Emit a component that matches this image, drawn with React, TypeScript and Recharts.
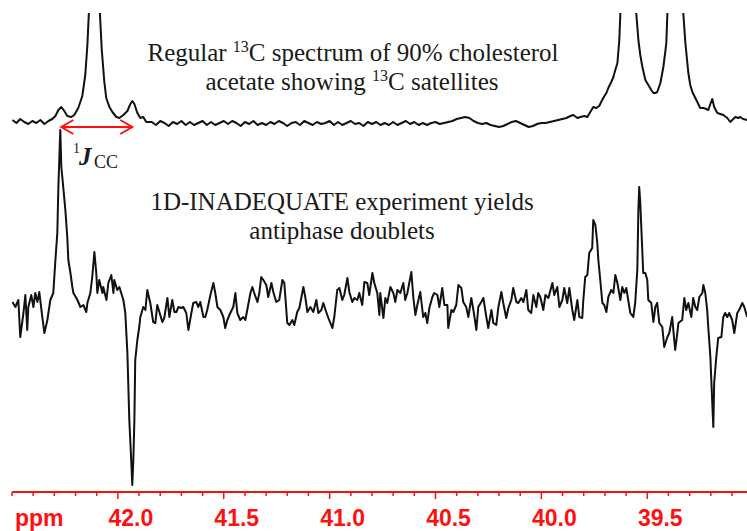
import { Line, LineChart, ReferenceLine, XAxis, YAxis } from 'recharts';

type Pt = [number, number];

// regular 13C spectrum: [ppm, intensity above its own baseline]
const REG_LEFT: Pt[] = [
    [42.498, 2], [42.479, -1], [42.461, 3], [42.442, 0], [42.423, -2], [42.404, 1], [42.385, -1], [42.366, 2],
    [42.347, -2], [42.328, 1], [42.31, 3], [42.295, 6], [42.281, 12], [42.267, 15], [42.253, 11], [42.239, 6],
    [42.22, 5], [42.206, 7], [42.187, 14], [42.168, 26], [42.154, 47], [42.144, 77], [42.137, 109], [42.111, 600],
    [42.085, 109], [42.076, 72], [42.064, 40], [42.055, 24], [42.04, 15], [42.026, 10], [42.007, 5], [41.993, 4],
    [41.974, 7], [41.955, 11], [41.941, 18], [41.932, 21], [41.922, 18], [41.908, 9], [41.894, 4], [41.88, 5],
    [41.866, 0],
];

const REG_MID: Pt[] = [
    [41.84, 0], [41.82, -3], [41.8, 1], [41.78, -1], [41.76, -4], [41.74, 0], [41.72, -2], [41.7, 1],
    [41.68, -3], [41.66, 0], [41.64, -3], [41.62, -1], [41.6, 1], [41.58, -3], [41.56, 0], [41.54, -3],
    [41.52, -1], [41.5, 1], [41.48, -2], [41.46, 1], [41.44, -1], [41.42, -4], [41.4, 0], [41.38, -2],
    [41.36, 1], [41.34, -3], [41.32, -1], [41.3, -3], [41.28, 0], [41.26, -2], [41.24, 1], [41.22, -1],
    [41.2, -4], [41.18, -1], [41.16, 0], [41.14, -3], [41.12, 1], [41.1, -1], [41.08, -3], [41.06, 0],
    [41.04, -2], [41.02, -1], [41.0, 1], [40.98, -3], [40.96, 0], [40.94, -3], [40.92, -1], [40.9, 1],
    [40.88, -2], [40.86, -1], [40.84, -4], [40.82, 0], [40.8, -2], [40.78, 0], [40.76, -3], [40.74, -1],
    [40.72, -3], [40.7, 0], [40.68, -3], [40.66, -1], [40.64, 1], [40.62, -2], [40.6, 0], [40.58, -3],
    [40.56, -1], [40.54, -3], [40.52, -1], [40.5, 0], [40.48, -2], [40.46, -1], [40.44, 0], [40.42, 1],
    [40.4, 3], [40.38, 4], [40.36, 5], [40.34, 4], [40.32, 1], [40.3, -1], [40.28, -2], [40.26, -1],
    [40.24, -3], [40.22, -4], [40.2, -5], [40.18, -4], [40.16, -2], [40.14, 0], [40.12, 1], [40.1, -1],
    [40.08, -3], [40.06, -5], [40.04, -4], [40.02, -2], [40.0, -1], [39.98, -1], [39.96, 0],
];

const REG_RIGHT: Pt[] = [
    [39.901, 3], [39.882, 4], [39.863, 6], [39.849, 7], [39.83, 4], [39.816, 5], [39.797, 6], [39.783, 5],
    [39.769, 10], [39.755, 15], [39.741, 14], [39.727, 16], [39.708, 24], [39.693, 29], [39.684, 34], [39.67, 40],
    [39.66, 45], [39.651, 52], [39.641, 59], [39.632, 82], [39.627, 109], [39.59, 600], [39.552, 109], [39.542, 82],
    [39.533, 67], [39.523, 55], [39.509, 42], [39.495, 37], [39.481, 32], [39.471, 29], [39.462, 29], [39.453, 30],
    [39.438, 39], [39.424, 55], [39.415, 70], [39.41, 79], [39.405, 109], [39.368, 600], [39.33, 109], [39.32, 79],
    [39.306, 49], [39.297, 37], [39.287, 30], [39.273, 24], [39.259, 18], [39.25, 14], [39.235, 14], [39.221, 13],
    [39.212, 12], [39.202, 18], [39.193, 23], [39.184, 15], [39.169, 9], [39.155, 8], [39.141, 7], [39.122, 4],
    [39.108, 0], [39.094, 3], [39.084, 5], [39.07, 4], [39.061, 5], [39.047, 3], [39.028, 2],
];

// 1D-INADEQUATE: [ppm, intensity]
const INA_LEFT: Pt[] = [
    [42.498, -2], [42.484, -7], [42.47, 0], [42.461, -37], [42.446, -13], [42.437, 5], [42.428, -30], [42.423, -7],
    [42.409, 5], [42.399, -7], [42.39, 7], [42.38, -2], [42.371, 8], [42.357, -17], [42.347, -33], [42.333, -20],
    [42.319, 0], [42.305, 7], [42.295, 40], [42.286, 67], [42.281, 113], [42.272, 170], [42.267, 133], [42.262, 122],
    [42.258, 113], [42.248, 90], [42.239, 63], [42.234, 40], [42.224, 27], [42.215, 13], [42.21, 7], [42.191, 0],
    [42.177, -7], [42.163, -5], [42.149, -12], [42.144, -3], [42.13, 7], [42.121, 23], [42.111, 48], [42.102, 27],
    [42.097, 7], [42.088, 20], [42.073, 7], [42.069, 13], [42.054, 0], [42.045, 17], [42.031, 25], [42.021, 7],
    [42.017, 20], [42.003, 10], [41.993, 13], [41.974, 0], [41.965, -13], [41.955, -53], [41.946, -120], [41.936, -165],
    [41.932, -185], [41.927, -160], [41.922, -120], [41.918, -60], [41.908, -40], [41.899, -27],
];

const INA_MID: Pt[] = [
    [41.894, -17], [41.88, -7], [41.87, -10], [41.861, 10], [41.847, -3], [41.833, -22], [41.823, -23], [41.814, -5],
    [41.804, -12], [41.79, -22], [41.781, -18], [41.766, 2], [41.757, -17], [41.743, 0], [41.733, -12], [41.724, -12],
    [41.714, -7], [41.7, -8], [41.691, -7], [41.677, -13], [41.667, -30], [41.653, -13], [41.644, -3], [41.63, -2],
    [41.62, -7], [41.611, -2], [41.596, -17], [41.587, -17], [41.578, -10], [41.563, 5], [41.549, 17], [41.54, 7],
    [41.53, -7], [41.516, -10], [41.502, -17], [41.493, -28], [41.483, -20], [41.469, -13], [41.455, -7], [41.445, 7],
    [41.436, -13], [41.422, -20], [41.408, -17], [41.398, -20], [41.389, -10], [41.374, 7], [41.365, 13], [41.356, 7],
    [41.341, -2], [41.332, 7], [41.323, 23], [41.313, 20], [41.299, 15], [41.29, 3], [41.275, 17], [41.266, 8],
    [41.252, -2], [41.238, 0], [41.223, 20], [41.214, 17], [41.2, -23], [41.19, -25], [41.176, -20], [41.167, -25],
    [41.153, -12], [41.143, -8], [41.124, 13], [41.115, 3], [41.105, -12], [41.091, -7], [41.077, -12], [41.063, 0],
    [41.053, -13], [41.039, -10], [41.03, -3], [41.016, -12], [41.006, -18], [40.987, -28], [40.978, -17], [40.964, 10],
    [40.954, 12], [40.94, 0], [40.931, 5], [40.916, 22], [40.907, 8], [40.893, -2], [40.883, 2], [40.869, 0],
    [40.86, 7], [40.846, -5], [40.836, 18], [40.822, 17], [40.813, 5], [40.798, 27], [40.789, 17], [40.775, 7],
    [40.765, -15],
];

const INA_MID2: Pt[] = [
    [40.761, 7], [40.746, -18], [40.737, 2], [40.728, -3], [40.713, 13], [40.699, 7], [40.69, -2], [40.68, 10],
    [40.666, 7], [40.652, 17], [40.643, 0], [40.633, 7], [40.614, 28], [40.605, 3], [40.595, -15], [40.586, -5],
    [40.572, 8], [40.558, -17], [40.548, -13], [40.539, -23], [40.529, -8], [40.515, 3], [40.506, 7], [40.491, 5],
    [40.482, -7], [40.468, 12], [40.458, -5], [40.444, -5], [40.44, -28], [40.425, -10], [40.416, -12], [40.402, -5],
    [40.392, 15], [40.378, 12], [40.369, -2], [40.355, -7], [40.345, -17], [40.331, 2], [40.321, -10], [40.307, -30],
    [40.298, -7], [40.284, -2], [40.274, 2], [40.26, -17], [40.251, -28], [40.236, -10], [40.227, -23], [40.213, -25],
    [40.203, -7], [40.189, 8], [40.18, -3], [40.166, -18], [40.156, -8], [40.142, 0], [40.133, 12], [40.118, -2],
    [40.109, -3], [40.095, 2], [40.085, -2], [40.071, 10], [40.062, -10], [40.048, -13], [40.038, 5], [40.024, -7],
    [40.015, 7],
];

const INA_RIGHT: Pt[] = [
    [40.005, 3], [39.991, -10], [39.981, 5], [39.967, 2], [39.948, 17], [39.939, 5], [39.925, 13], [39.915, -7],
    [39.901, 0], [39.892, 12], [39.878, -3], [39.868, 12], [39.854, -10], [39.845, -20], [39.83, 0], [39.821, -17],
    [39.807, -18], [39.802, 0], [39.793, 23], [39.783, 25], [39.774, 47], [39.76, 52], [39.755, 80], [39.745, 75],
    [39.736, 57], [39.731, 40], [39.722, 20], [39.712, -3], [39.703, -5], [39.693, -12], [39.684, 3], [39.67, 10],
    [39.66, 7], [39.651, 25], [39.641, 17], [39.627, 0], [39.618, 13], [39.608, 7], [39.599, 12], [39.59, 0],
    [39.58, -13], [39.566, -17], [39.557, -3], [39.547, 30], [39.542, 90], [39.538, 113], [39.533, 97], [39.523, 47],
    [39.519, 27], [39.509, 27], [39.5, 20], [39.495, 0], [39.481, -3], [39.471, -22], [39.462, -7], [39.453, -3],
    [39.443, -23], [39.429, -27], [39.42, -47], [39.405, -37], [39.396, -33], [39.382, -17], [39.377, -30], [39.368, -50],
    [39.358, -33], [39.353, -23], [39.335, -20], [39.325, 2], [39.316, -10], [39.306, -3], [39.292, -17], [39.283, 2],
    [39.273, -7], [39.264, -10], [39.254, 3], [39.24, 7], [39.235, 15], [39.226, 7], [39.217, -10], [39.212, -27],
    [39.202, -57], [39.193, -103], [39.188, -127], [39.184, -83], [39.174, -57], [39.165, -38], [39.15, -37], [39.141, -17],
    [39.132, -13], [39.122, -17], [39.113, -13], [39.099, -20], [39.089, -33], [39.075, -13], [39.066, -10], [39.051, -3],
    [39.042, -7], [39.028, -17],
];

const AXIS_TICKS = [
    42.5, 42.4, 42.3, 42.2, 42.1, 42.0, 41.9, 41.8, 41.7, 41.6, 41.5, 41.4, 41.3, 41.2, 41.1, 41.0, 40.9, 40.8,
    40.7, 40.6, 40.5, 40.4, 40.3, 40.2, 40.1, 40.0, 39.9, 39.8, 39.7, 39.6, 39.5, 39.4, 39.3, 39.2, 39.1,
];
const LABELED_TICKS = [42.0, 41.5, 41.0, 40.5, 40.0, 39.5];
const JCC_SATELLITES = [42.267, 41.932];

const RED = '#ff1010';
const INK = '#111';
const SERIF = '"Liberation Serif", "Times New Roman", serif';

const toRows = (pts: Pt[]) => pts.map(([ppm, v]) => ({ ppm, v }));
const regData = toRows([...REG_LEFT, ...REG_MID, ...REG_RIGHT]);
const inaData = toRows([...INA_LEFT, ...INA_MID, ...INA_MID2, ...INA_RIGHT]);

function PpmTick(props: any) {
    const { x, y, payload } = props;
    const v: number = payload.value;
    const major = LABELED_TICKS.some((t) => Math.abs(t - v) < 1e-6);
    const first = Math.abs(v - AXIS_TICKS[0]) < 1e-6;
    const font = { fontFamily: '"Liberation Sans", Arial, sans-serif', fontWeight: 700, fontSize: 23, fill: RED };
    return (
        <g>
            <line x1={x} x2={x} y1={y} y2={y + (major ? 7 : 4)} stroke={RED} strokeWidth={1.5} />
            {major && (
                <text x={x + 13} y={y + 34} textAnchor="middle" {...font}>
                    {v.toFixed(1)}
                </text>
            )}
            {first && (
                <text x={x + 3} y={y + 34} textAnchor="start" {...font}>
                    ppm
                </text>
            )}
        </g>
    );
}

function JArrow(props: any) {
    const { x1, y1, x2, y2 } = props;
    const left = Math.min(x1, x2);
    const right = Math.max(x1, x2);
    const y = (y1 + y2) / 2;
    return (
        <g stroke={RED} strokeWidth={2} fill="none">
            <line x1={left} y1={y} x2={right} y2={y} />
            <polyline points={`${left + 12},${y - 7} ${left},${y} ${left + 12},${y + 7}`} />
            <polyline points={`${right - 12},${y - 7} ${right},${y} ${right - 12},${y + 7}`} />
        </g>
    );
}

export default function App() {
    return (
        <div style={{ position: 'absolute', left: 0, top: 0, width: 747, height: 531, background: '#fff' }}>
            <LineChart width={747} height={531} margin={{ top: 13, right: 0, bottom: 0, left: 12 }}>
                <XAxis
                    type="number"
                    dataKey="ppm"
                    domain={[39.029, 42.5]}
                    reversed
                    allowDataOverflow
                    ticks={AXIS_TICKS}
                    interval={0}
                    height={39}
                    tickSize={0}
                    tickMargin={0}
                    tickLine={false}
                    axisLine={{ stroke: RED, strokeWidth: 2 }}
                    tick={PpmTick}
                />
                <YAxis yAxisId="reg" hide domain={[-370, 109]} allowDataOverflow />
                <YAxis yAxisId="ina" hide domain={[-192, 287]} allowDataOverflow />

                <Line
                    yAxisId="reg"
                    data={regData}
                    dataKey="v"
                    type="linear"
                    stroke={INK}
                    strokeWidth={2}
                    strokeLinejoin="round"
                    dot={false}
                    activeDot={false}
                    isAnimationActive={false}
                />
                <Line
                    yAxisId="ina"
                    data={inaData}
                    dataKey="v"
                    type="linear"
                    stroke={INK}
                    strokeWidth={2}
                    strokeLinejoin="round"
                    dot={false}
                    activeDot={false}
                    isAnimationActive={false}
                />

                <ReferenceLine
                    yAxisId="reg"
                    segment={[
                        { x: JCC_SATELLITES[0], y: -5 },
                        { x: JCC_SATELLITES[1], y: -5 },
                    ]}
                    shape={JArrow}
                />
            </LineChart>

            <svg width={747} height={531} style={{ position: 'absolute', left: 0, top: 0, pointerEvents: 'none' }}>
                <g fontFamily={SERIF} fill="#1a1a1a" fontSize={25} textAnchor="middle">
                    <text x={353} y={61}>
                        Regular <tspan fontSize={16} dy={-9}>13</tspan>
                        <tspan dy={9}>C spectrum of 90% cholesterol</tspan>
                    </text>
                    <text x={352} y={90}>
                        acetate showing <tspan fontSize={16} dy={-9}>13</tspan>
                        <tspan dy={9}>C satellites</tspan>
                    </text>
                    <text x={342} y={210}>1D-INADEQUATE experiment yields</text>
                    <text x={342} y={239}>antiphase doublets</text>
                </g>
                <g fontFamily={SERIF} fill="#1a1a1a">
                    <text x={73} y={153} fontSize={14}>1</text>
                    <text x={79} y={165} fontSize={25} fontWeight={700} fontStyle="italic">J</text>
                    <text x={94} y={168} fontSize={18}>CC</text>
                </g>
            </svg>
        </div>
    );
}
